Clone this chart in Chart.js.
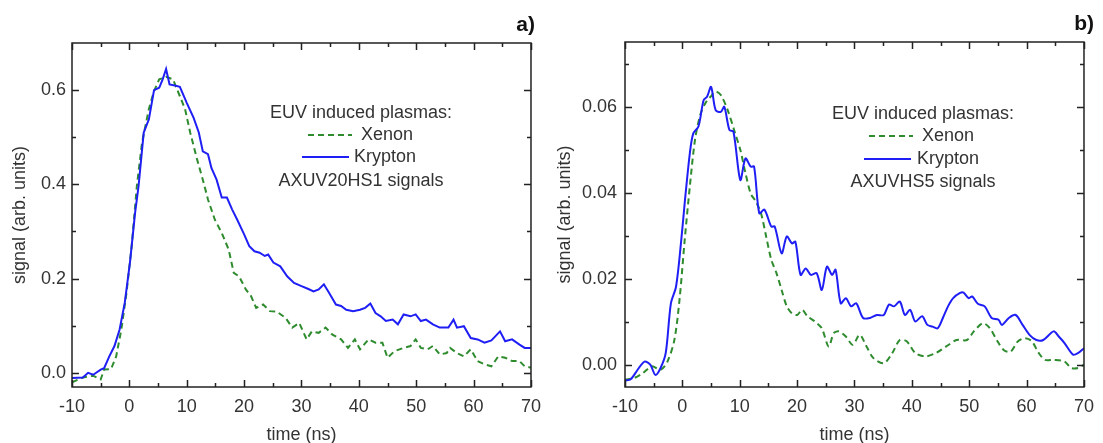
<!DOCTYPE html>
<html>
<head>
<meta charset="utf-8">
<script src="https://cdn.jsdelivr.net/npm/chart.js@4"></script>
<style>
  html, body { margin: 0; padding: 0; background: #fff; }
  #wrap { position: relative; width: 1103px; height: 443px; overflow: hidden; }
  #panelA { position: absolute; left: 0; top: 0; }
  #panelB { position: absolute; left: 550px; top: 0; }
</style>
</head>
<body>
<div id="wrap">
  <canvas id="panelA" width="550" height="443"></canvas>
  <canvas id="panelB" width="553" height="443"></canvas>
</div>
<script>
// time axis (ns)
const timeTicks = [-10, 0, 10, 20, 30, 40, 50, 60, 70];
const timeMinor = [-5, 5, 15, 25, 35, 45, 55, 65];

// panel a) AXUV20HS1
const yTicksA = [0, 0.2, 0.4, 0.6];
const yLabelsA = ['0.0', '0.2', '0.4', '0.6'];
const yMinorA = [0.1, 0.3, 0.5];

const krA_t = [-10,-8.1,-7.2,-6.3,-5.0,-4.4,-3.5,-2.6,-1.7,-0.8,0.1,1.0,1.6,2.5,3.4,4.3,5.2,5.8,6.4,7.0,7.9,8.8,10.0,11.2,12.1,12.8,13.7,14.3,15.2,16.1,17.0,17.9,18.8,20.0,20.9,21.8,22.7,23.6,24.2,25.1,26.3,27.5,28.7,30.0,31.2,32.1,33.0,33.9,34.8,36.0,36.9,37.8,39.0,40.2,41.1,42.0,42.9,43.8,44.7,45.9,46.8,47.8,49.0,49.9,50.8,51.7,52.9,54.1,55.6,56.5,57.1,58.3,59.5,60.7,61.9,63.1,64.6,65.5,66.7,68.0,68.9,70];
const krA_v = [-0.011,-0.01,0.0,-0.004,0.007,0.01,0.035,0.057,0.092,0.149,0.234,0.34,0.396,0.51,0.538,0.60,0.605,0.623,0.645,0.612,0.61,0.607,0.573,0.541,0.51,0.47,0.464,0.435,0.41,0.372,0.372,0.347,0.325,0.294,0.269,0.258,0.255,0.248,0.251,0.234,0.226,0.205,0.191,0.184,0.178,0.173,0.177,0.188,0.17,0.145,0.142,0.134,0.131,0.134,0.138,0.147,0.127,0.12,0.11,0.113,0.103,0.124,0.12,0.124,0.11,0.113,0.103,0.096,0.096,0.113,0.096,0.099,0.074,0.071,0.064,0.069,0.088,0.067,0.071,0.06,0.053,0.053];

const xeA_t = [-10,-8.1,-6.3,-5.0,-4.4,-3.2,-2.3,-1.4,-0.5,0.4,1.3,2.2,3.4,4.3,5.2,6.4,7.6,8.8,9.7,10.6,11.8,12.8,13.7,14.9,16.1,17.3,18.2,19.1,20.3,21.2,22.1,23.3,24.5,25.7,27.2,28.4,29.6,30.9,31.8,33.0,34.2,35.4,36.9,38.1,39.3,40.2,41.7,42.9,44.1,45.0,46.2,47.8,49.0,49.9,50.8,52.0,52.9,54.1,55.3,55.9,57.1,58.3,59.5,60.7,61.9,63.1,64.3,65.5,66.7,68.0,68.9,70];
const xeA_v = [-0.02,-0.01,-0.006,-0.014,0.007,0.008,0.035,0.092,0.17,0.269,0.396,0.488,0.56,0.598,0.623,0.628,0.623,0.587,0.56,0.51,0.453,0.41,0.368,0.325,0.297,0.262,0.212,0.205,0.177,0.163,0.138,0.145,0.131,0.13,0.117,0.096,0.106,0.071,0.088,0.085,0.096,0.081,0.071,0.053,0.071,0.05,0.071,0.064,0.064,0.032,0.046,0.053,0.057,0.071,0.053,0.05,0.057,0.039,0.042,0.053,0.042,0.035,0.05,0.025,0.018,0.014,0.035,0.032,0.025,0.025,0.014,0.011];

// panel b) AXUVHS5
const yTicksB = [0, 0.02, 0.04, 0.06];
const yLabelsB = ['0.00', '0.02', '0.04', '0.06'];
const yMinorB = [0.01, 0.03, 0.05, 0.07];

const krB_t = [-10,-9.0,-7.8,-6.6,-5.6,-4.7,-3.8,-2.9,-2.0,-1.1,-0.2,0.4,1.3,1.9,2.8,3.7,4.3,5.0,5.8,6.7,7.3,8.2,8.9,10.1,11.0,11.9,12.5,13.4,14.3,15.5,16.1,17.3,18.2,19.1,19.7,20.6,21.5,22.4,23.4,24.3,25.2,26.1,26.7,27.6,28.5,29.4,30.3,31.5,32.7,33.9,35.1,36.0,36.9,37.9,38.8,39.7,40.6,41.8,42.7,43.6,44.5,45.4,46.3,47.2,48.4,49.0,49.9,50.5,51.5,52.7,53.9,55.1,55.7,56.9,58.1,59.3,60.5,61.7,62.9,64.7,65.6,66.6,68.1,69.0,70];
const krB_v = [-0.0035,-0.0032,-0.001,0.0009,0.0002,-0.0022,-0.0006,0.0029,0.0144,0.0183,0.029,0.0376,0.0492,0.0538,0.0554,0.0615,0.0623,0.0646,0.0592,0.0588,0.060,0.0546,0.0542,0.043,0.048,0.0461,0.0461,0.0353,0.0361,0.0322,0.0322,0.026,0.0299,0.0283,0.0287,0.021,0.0225,0.021,0.0214,0.0175,0.0229,0.021,0.0222,0.0144,0.0156,0.0137,0.0144,0.011,0.011,0.0117,0.0117,0.0141,0.0137,0.0148,0.0117,0.0129,0.0102,0.0114,0.0094,0.009,0.0086,0.011,0.0137,0.0156,0.0168,0.0169,0.0156,0.016,0.0143,0.0137,0.011,0.0106,0.0094,0.011,0.0117,0.0094,0.0071,0.0059,0.0059,0.0079,0.0067,0.0052,0.0025,0.0029,0.004];

const xeB_t = [-10,-8.4,-6.9,-5.3,-3.8,-2.6,-1.4,-0.5,0.4,1.3,2.2,3.1,4.0,4.9,5.8,6.7,7.9,9.2,10.1,11.0,11.9,12.8,13.7,14.6,15.5,16.4,17.3,18.2,19.1,20.0,20.9,21.8,23.1,24.3,25.5,26.4,27.3,28.5,29.7,30.9,32.1,33.3,35.1,36.6,37.9,39.1,40.6,42.4,44.2,46.0,47.8,49.6,50.8,52.4,53.6,54.8,56.0,57.2,58.5,59.7,60.9,62.1,63.2,64.7,66.6,67.8,69.0,70];
const xeB_v = [-0.0033,-0.0029,-0.0018,-0.0002,-0.001,0.0009,0.0059,0.0152,0.029,0.0415,0.0523,0.058,0.0608,0.0623,0.0635,0.0627,0.0592,0.0538,0.05,0.0446,0.0399,0.038,0.0353,0.0299,0.0245,0.0214,0.0175,0.0137,0.0121,0.0117,0.0129,0.0114,0.0102,0.0086,0.0044,0.0075,0.0079,0.0067,0.0048,0.0071,0.0044,0.0017,0.0005,0.0029,0.0059,0.0056,0.0029,0.0021,0.0029,0.0044,0.0059,0.0059,0.0079,0.0098,0.0086,0.0059,0.0036,0.0032,0.0056,0.0063,0.0056,0.0029,0.0013,0.0013,0.0009,-0.0006,-0.0006,0.0002];

const FONT = '"Liberation Sans", Arial, sans-serif';
const TEXT = '#333';
Chart.defaults.font.family = FONT;
Chart.defaults.color = TEXT;

function pts(t, v) {
  return t.map((x, i) => ({ x: x, y: v[i] }));
}

// frame with inward ticks, the text legend and the panel tag
function framePlugin(cfg) {
  return {
    id: 'frame',
    afterDraw(chart) {
      const ctx = chart.ctx;
      const a = chart.chartArea;
      const sx = chart.scales.x, sy = chart.scales.y;
      ctx.save();
      ctx.strokeStyle = '#222';
      ctx.lineWidth = 1.5;
      ctx.strokeRect(a.left, a.top, a.right - a.left, a.bottom - a.top);
      ctx.beginPath();
      const xt = (vals, len) => vals.forEach(v => {
        const p = Math.round(sx.getPixelForValue(v)) + 0.5;
        ctx.moveTo(p, a.bottom); ctx.lineTo(p, a.bottom - len);
        ctx.moveTo(p, a.top); ctx.lineTo(p, a.top + len);
      });
      const yt = (vals, len) => vals.forEach(v => {
        const p = Math.round(sy.getPixelForValue(v)) + 0.5;
        ctx.moveTo(a.left, p); ctx.lineTo(a.left + len, p);
        ctx.moveTo(a.right, p); ctx.lineTo(a.right - len, p);
      });
      xt(timeTicks, 7); xt(timeMinor, 4);
      yt(cfg.yMajor, 7); yt(cfg.yMinor, 4);
      ctx.stroke();

      // legend block
      const L = cfg.legend;
      ctx.fillStyle = TEXT;
      ctx.font = '18px ' + FONT;
      ctx.textBaseline = 'middle';
      ctx.textAlign = 'center';
      ctx.fillText(L.heading, L.cx, L.headY);
      chart.data.datasets.forEach((ds, i) => {
        const r = L.rows[i];
        ctx.strokeStyle = ds.borderColor;
        ctx.lineWidth = ds.borderWidth;
        ctx.setLineDash(ds.borderDash || []);
        ctx.beginPath();
        ctx.moveTo(r.x0, r.y); ctx.lineTo(r.x1, r.y);
        ctx.stroke();
        ctx.setLineDash([]);
        ctx.textAlign = 'left';
        ctx.fillText(ds.label, r.tx, r.y);
      });
      ctx.textAlign = 'center';
      ctx.fillText(L.footer, L.cx, L.footY);

      ctx.font = 'bold 21px ' + FONT;
      ctx.fillStyle = '#111';
      ctx.textAlign = 'right';
      ctx.fillText(cfg.tag, cfg.tagX, cfg.tagY);
      ctx.restore();
    }
  };
}

function makePanel(id, p) {
  return new Chart(document.getElementById(id), {
    type: 'line',
    data: {
      datasets: [
        {
          label: 'Xenon',
          data: pts(p.xeT, p.xeV),
          borderColor: '#2e8b2e',
          borderWidth: 2,
          borderDash: [6, 4],
          pointRadius: 0,
          tension: p.tension,
          order: 1
        },
        {
          label: 'Krypton',
          data: pts(p.krT, p.krV),
          borderColor: '#1f1ff5',
          borderWidth: 2,
          pointRadius: 0,
          tension: p.tension,
          order: 0
        }
      ]
    },
    options: {
      responsive: false,
      animation: false,
      layout: { padding: { left: 0, right: p.padRight, top: p.padTop, bottom: 0 } },
      plugins: { legend: { display: false }, tooltip: { enabled: false } },
      scales: {
        x: {
          type: 'linear',
          min: -10, max: 70,
          afterBuildTicks: s => { s.ticks = timeTicks.map(v => ({ value: v })); },
          afterFit: s => { s.height = 56; },
          grid: { display: false, drawTicks: false },
          border: { display: false },
          ticks: { font: { size: 18 }, color: TEXT, padding: 9, maxRotation: 0, autoSkip: false },
          title: { display: true, text: 'time (ns)', font: { size: 18 }, color: TEXT, padding: { top: -3, bottom: -3 } }
        },
        y: {
          type: 'linear',
          min: p.yMin, max: p.yMax,
          afterBuildTicks: s => { s.ticks = p.yMajor.map(v => ({ value: v })); },
          afterFit: s => { s.width = p.yWidth; },
          grid: { display: false, drawTicks: false },
          border: { display: false },
          ticks: { font: { size: 18 }, color: TEXT, padding: p.yPad, callback: (v, i) => p.yLabels[i] },
          title: { display: true, text: 'signal (arb. units)', font: { size: 18 }, color: TEXT, padding: { top: p.titlePad, bottom: p.titlePad } }
        }
      }
    },
    plugins: [framePlugin(p)]
  });
}

makePanel('panelA', {
  xeT: xeA_t, xeV: xeA_v, krT: krA_t, krV: krA_v,
  tension: 0,
  yMin: -0.03, yMax: 0.70,
  yMajor: yTicksA, yLabels: yLabelsA, yMinor: yMinorA,
  yWidth: 72, yPad: 6, titlePad: 9,
  padRight: 12, padTop: 43,
  legend: {
    heading: 'EUV induced plasmas:', footer: 'AXUV20HS1 signals',
    cx: 361, headY: 113, footY: 181,
    rows: [ { x0: 308, x1: 352, y: 135, tx: 361 }, { x0: 302, x1: 349, y: 157, tx: 354 } ]
  },
  tag: 'a)', tagX: 535, tagY: 25
});

makePanel('panelB', {
  xeT: xeB_t, xeV: xeB_v, krT: krB_t, krV: krB_v,
  tension: 0.3,
  yMin: -0.005, yMax: 0.075,
  yMajor: yTicksB, yLabels: yLabelsB, yMinor: yMinorB,
  yWidth: 75, yPad: 8, titlePad: 4,
  padRight: 11, padTop: 42,
  legend: {
    heading: 'EUV induced plasmas:', footer: 'AXUVHS5 signals',
    cx: 373, headY: 114, footY: 182,
    rows: [ { x0: 319, x1: 363, y: 136, tx: 372 }, { x0: 314, x1: 361, y: 159, tx: 367 } ]
  },
  tag: 'b)', tagX: 544, tagY: 24
});
</script>
</body>
</html>
